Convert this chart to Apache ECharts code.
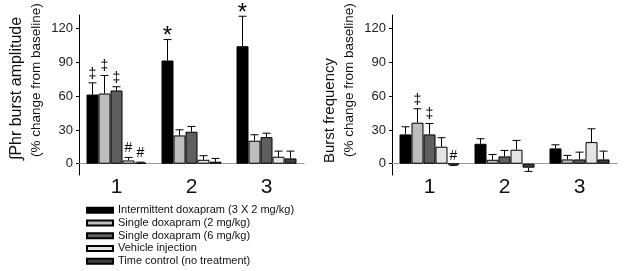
<!DOCTYPE html>
<html>
<head>
<meta charset="utf-8">
<script src="https://cdn.jsdelivr.net/npm/echarts@6/dist/echarts.min.js"></script>
<style>
  html, body { margin: 0; padding: 0; background: #fff; }
  #chart { width: 624px; height: 271px; }
</style>
</head>
<body>
<div id="chart"></div>
<script>
// time points after treatment
var categories = ['1', '2', '3'];
var groupNames = [
    'Intermittent doxapram (3 X 2 mg/kg)',
    'Single doxapram (2 mg/kg)',
    'Single doxapram (6 mg/kg)',
    'Vehicle injection',
    'Time control (no treatment)'
];
var tickValues = [0, 30, 60, 90, 120];

// burst amplitude, % change from baseline (mean / SEM)
var ampIntermittent = [61.4, 91.6, 104.3];
var ampSingle2 = [62.3, 25.1, 20.4];
var ampSingle6 = [65.0, 28.4, 23.6];
var ampVehicle = [2.9, 3.5, 6.2];
var ampTimeCtrl = [0.9, 1.8, 4.7];
var ampErrIntermittent = [10.4, 18.6, 26.6];
var ampErrSingle2 = [16.0, 5.0, 5.3];
var ampErrSingle6 = [3.3, 4.7, 3.5];
var ampErrVehicle = [2.7, 3.6, 5.0];
var ampErrTimeCtrl = [0.5, 2.9, 6.5];

// burst frequency, % change from baseline (mean / SEM)
var freqIntermittent = [26.0, 17.7, 13.6];
var freqSingle2 = [36.4, 3.5, 3.8];
var freqSingle6 = [26.0, 6.5, 3.8];
var freqVehicle = [15.1, 12.4, 19.2];
var freqTimeCtrl = [-0.5, -3.5, 3.8];
var freqErrIntermittent = [6.8, 4.5, 3.2];
var freqErrSingle2 = [12.4, 4.7, 3.6];
var freqErrSingle6 = [9.7, 5.3, 6.5];
var freqErrVehicle = [8.0, 8.3, 11.8];
var freqErrTimeCtrl = [1.0, 3.3, 7.4];

// significance marks: [group index, category index, symbol]
var ampMarks = [[0, 0, '‡'], [1, 0, '‡'], [2, 0, '‡'], [3, 0, '#'], [4, 0, '#'], [0, 1, '*'], [0, 2, '*']];
var freqMarks = [[1, 0, '‡'], [2, 0, '‡'], [4, 0, '#']];

var colors = ['#000000', '#bdbdbd', '#5f5f5f', '#e4e4e4', '#404040'];
var font = 'Liberation Sans, Arial, sans-serif';

var chart = echarts.init(document.getElementById('chart'));

function barSeries(name, idx, values, axis) {
    return {
        name: name,
        type: 'bar',
        xAxisIndex: axis,
        yAxisIndex: axis,
        barGap: '0%',
        barCategoryGap: '20%',
        itemStyle: { color: colors[idx], borderColor: '#000', borderWidth: 1 },
        data: values
    };
}

function errorSeries(means, errs, marks, axis) {
    var data = [];
    for (var i = 0; i < means.length; i++) {
        for (var j = 0; j < means[i].length; j++) {
            var mark = '';
            marks.forEach(function (m) { if (m[0] === i && m[1] === j) mark = m[2]; });
            data.push([j, means[i][j], errs[i][j], i, mark]);
        }
    }
    return {
        type: 'custom',
        xAxisIndex: axis,
        yAxisIndex: axis,
        silent: true,
        z: 5,
        data: data,
        renderItem: function (params, api) {
            var cat = api.value(0), mean = api.value(1), err = api.value(2), grp = api.value(3);
            var mark = data[params.dataIndex][4];
            var band = api.size([1, 0])[0];
            var bw = band * 0.8 / 5;
            var x = api.coord([cat, 0])[0] + (grp - 2) * bw;
            var end = mean < 0 ? mean - err : mean + err;
            var y0 = api.coord([cat, mean])[1];
            var y1 = api.coord([cat, end])[1];
            var children = [
                { type: 'line', shape: { x1: x, y1: y0, x2: x, y2: y1 }, style: { stroke: '#000', lineWidth: 1 } },
                { type: 'line', shape: { x1: x - 4, y1: y1, x2: x + 4, y2: y1 }, style: { stroke: '#000', lineWidth: 1 } }
            ];
            if (mark) {
                var size = mark === '*' ? 24 : 14;
                children.push({
                    type: 'text',
                    x: x,
                    y: y1 - (mark === '*' ? -9 : 2),
                    style: { text: mark, fill: '#000', font: size + 'px ' + font, textAlign: 'center', textVerticalAlign: 'bottom' }
                });
            }
            return { type: 'group', children: children };
        }
    };
}

function xAxisCfg(grid) {
    return {
        type: 'category',
        gridIndex: grid,
        data: categories,
        axisLine: { onZero: true, lineStyle: { color: '#999', width: 1 } },
        axisTick: { show: false },
        axisLabel: { fontSize: 21, color: '#111', margin: 2, fontFamily: font }
    };
}

function yAxisCfg(grid) {
    return {
        type: 'value',
        gridIndex: grid,
        min: -10,
        max: 132,
        splitLine: { show: false },
        axisLine: { show: true, lineStyle: { color: '#000', width: 1 } },
        axisTick: { show: true, length: 3, customValues: tickValues, lineStyle: { color: '#000' } },
        axisLabel: { customValues: tickValues, fontSize: 13, color: '#222', margin: 6, fontFamily: font }
    };
}

var series = [];
var ampMeans = [ampIntermittent, ampSingle2, ampSingle6, ampVehicle, ampTimeCtrl];
var ampErrs = [ampErrIntermittent, ampErrSingle2, ampErrSingle6, ampErrVehicle, ampErrTimeCtrl];
var freqMeans = [freqIntermittent, freqSingle2, freqSingle6, freqVehicle, freqTimeCtrl];
var freqErrs = [freqErrIntermittent, freqErrSingle2, freqErrSingle6, freqErrVehicle, freqErrTimeCtrl];
groupNames.forEach(function (n, i) { series.push(barSeries(n, i, ampMeans[i], 0)); });
groupNames.forEach(function (n, i) { series.push(barSeries(n, i, freqMeans[i], 1)); });
series.push(errorSeries(ampMeans, ampErrs, ampMarks, 0));
series.push(errorSeries(freqMeans, freqErrs, freqMarks, 1));

function axisTitle(x, y, text, size) {
    return {
        type: 'text',
        x: x,
        y: y,
        rotation: Math.PI / 2,
        style: { text: text, fill: '#111', font: size + 'px ' + font, textAlign: 'left', textVerticalAlign: 'middle' }
    };
}

var option = {
    animation: false,
    backgroundColor: '#fff',
    grid: [
        { left: 79, top: 15, width: 225, height: 160 },
        { left: 392, top: 15, width: 225, height: 160 }
    ],
    xAxis: [xAxisCfg(0), xAxisCfg(1)],
    yAxis: [yAxisCfg(0), yAxisCfg(1)],
    legend: {
        orient: 'vertical',
        left: 86,
        top: 204,
        height: 67,
        padding: 0,
        itemWidth: 26,
        itemHeight: 5,
        itemGap: 0,
        icon: 'rect',
        selectedMode: false,
        data: groupNames,
        textStyle: { fontSize: 11, lineHeight: 12.7, color: '#111', fontFamily: font }
    },
    graphic: [
        axisTitle(17, 160, '∫Phr burst amplitude', 16),
        axisTitle(36, 157, '(% change from baseline)', 13.5),
        axisTitle(330, 163, 'Burst frequency', 15),
        axisTitle(349, 157, '(% change from baseline)', 13.5)
    ],
    series: series
};
chart.setOption(option);
</script>
</body>
</html>
